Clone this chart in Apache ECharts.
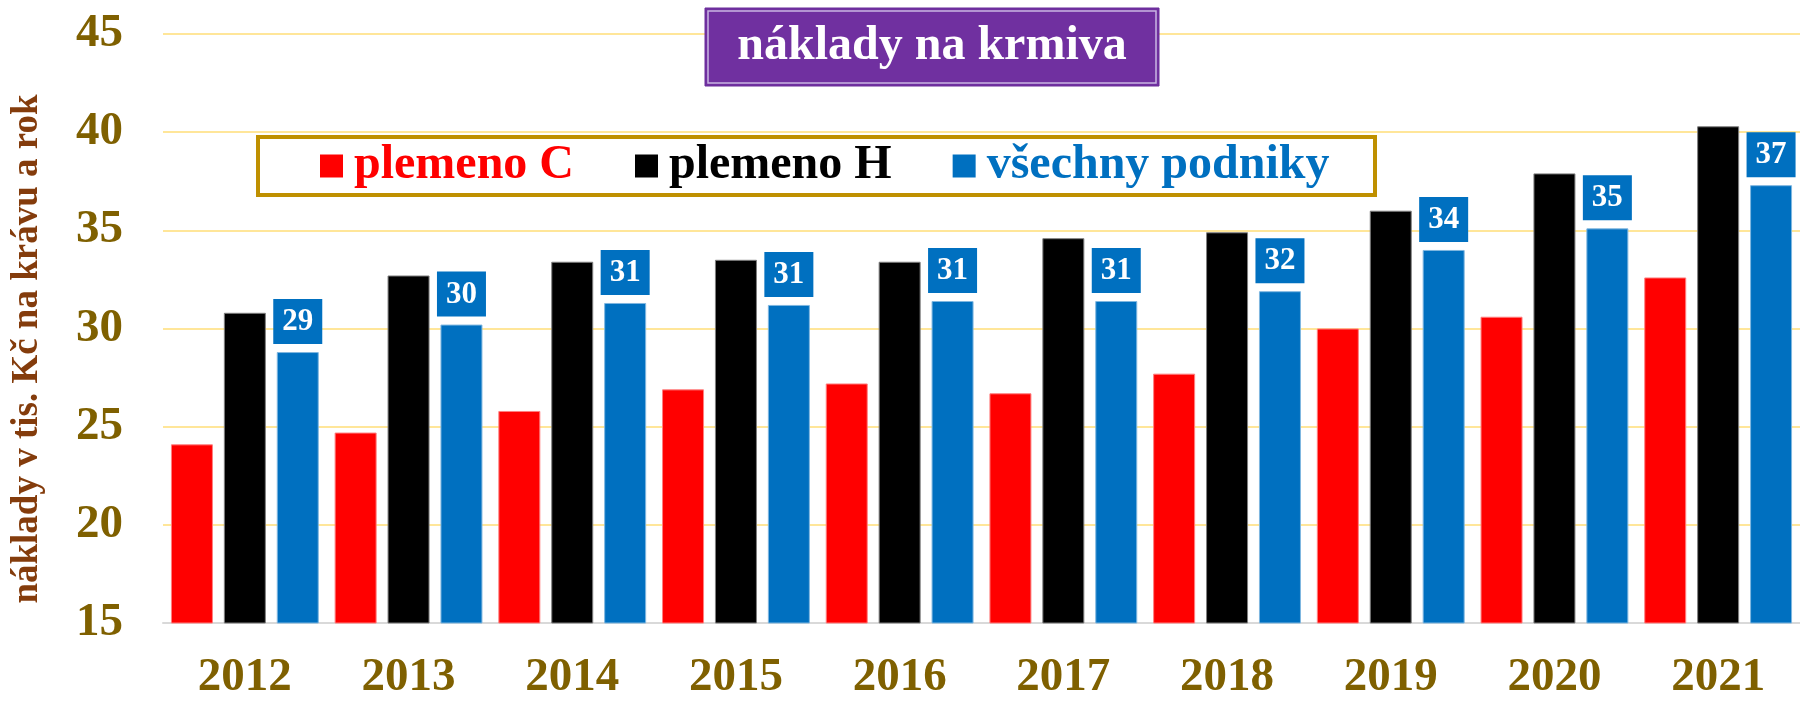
<!DOCTYPE html>
<html>
<head>
<meta charset="utf-8">
<title>náklady na krmiva</title>
<style>
    html, body {margin: 0; padding: 0; background: #fff;}
    #main {width: 1800px; height: 701px;}
</style>
</head>
<body>
<div id="main"></div>
<script src="https://cdn.jsdelivr.net/npm/echarts@6/dist/echarts.min.js"></script>
<script type="text/javascript">
    // data
    var years = ['2012', '2013', '2014', '2015', '2016', '2017', '2018', '2019', '2020', '2021'];
    var plemenoC = [24.1, 24.7, 25.8, 26.9, 27.2, 26.7, 27.7, 30.0, 30.6, 32.6];
    var plemenoH = [30.8, 32.7, 33.4, 33.5, 33.4, 34.6, 34.9, 36.0, 37.9, 40.3];
    var vsechny = [28.8, 30.2, 31.3, 31.2, 31.4, 31.4, 31.9, 34.0, 35.1, 37.3];

    var font = '"Liberation Serif", "Times New Roman", serif';
    var myChart = echarts.init(document.getElementById('main'));

    var option = {
        animation: false,
        grid: {left: 163, top: 34, width: 1650, height: 593},
        legend: {
            left: 320,
            top: 142,
            padding: 0,
            itemWidth: 23,
            itemHeight: 23,
            itemGap: 61,
            icon: 'rect',
            itemStyle: {borderWidth: 0},
            textStyle: {fontFamily: font, fontWeight: 'bold', fontSize: 48, padding: [0, 0, 0, 6]},
            data: [
                {name: 'plemeno C', textStyle: {color: '#FF0000'}},
                {name: 'plemeno H', textStyle: {color: '#000000'}},
                {name: 'všechny podniky', textStyle: {color: '#0070C0'}}
            ]
        },
        xAxis: {
            type: 'category',
            data: years,
            axisLine: {lineStyle: {color: '#D9D9D9', width: 2}},
            axisTick: {show: false},
            axisLabel: {
                interval: 0,
                margin: 31,
                color: '#7F6000',
                fontFamily: font,
                fontWeight: 'bold',
                fontSize: 47
            }
        },
        yAxis: {
            type: 'value',
            min: 15,
            max: 45,
            interval: 5,
            axisLine: {show: false},
            axisTick: {show: false},
            splitLine: {lineStyle: {color: '#FFE699', width: 2}},
            axisLabel: {
                margin: 40,
                color: '#7F6000',
                fontFamily: font,
                fontWeight: 'bold',
                fontSize: 47
            }
        },
        graphic: [
            // legend frame
            {
                type: 'rect', z: 3,
                shape: {x: 258, y: 137, width: 1117, height: 58},
                style: {fill: '#fff', stroke: '#BF9000', lineWidth: 4}
            },
            // title box
            {
                type: 'rect', z: 3,
                shape: {x: 705, y: 8, width: 454, height: 78},
                style: {fill: '#7030A0', stroke: '#6A2C9A', lineWidth: 1}
            },
            {
                type: 'rect', z: 3,
                shape: {x: 708, y: 11, width: 448, height: 72},
                style: {fill: 'none', stroke: '#C9B5E2', lineWidth: 1.5}
            },
            {
                type: 'text', z: 4,
                x: 932, y: 47,
                style: {
                    text: 'náklady na krmiva',
                    fill: '#fff',
                    font: 'bold 48px ' + font,
                    align: 'center',
                    verticalAlign: 'middle'
                }
            },
            // y axis title
            {
                type: 'text', z: 4,
                x: 27, y: 349,
                rotation: Math.PI / 2,
                style: {
                    text: 'náklady v tis. Kč na krávu a rok',
                    fill: '#843C0C',
                    font: 'bold 37px ' + font,
                    align: 'center',
                    verticalAlign: 'middle'
                }
            }
        ],
        series: [
            {
                name: 'plemeno C',
                type: 'bar',
                barGap: '26%',
                barCategoryGap: '9.7%',
                itemStyle: {color: '#FF0000', borderColor: '#FF7F7F', borderWidth: 1},
                data: plemenoC
            },
            {
                name: 'plemeno H',
                type: 'bar',
                itemStyle: {color: '#000000', borderColor: '#7F7F7F', borderWidth: 1},
                data: plemenoH
            },
            {
                name: 'všechny podniky',
                type: 'bar',
                itemStyle: {color: '#0070C0', borderColor: '#7FB7E0', borderWidth: 1},
                label: {
                    show: true,
                    position: 'top',
                    distance: 8,
                    formatter: function (p) { return Math.round(p.value); },
                    backgroundColor: '#0070C0',
                    color: '#fff',
                    fontFamily: font,
                    fontWeight: 'bold',
                    fontSize: 31,
                    lineHeight: 32,
                    padding: [7, 9, 6, 9]
                },
                data: vsechny
            }
        ]
    };

    myChart.setOption(option);
</script>
</body>
</html>
